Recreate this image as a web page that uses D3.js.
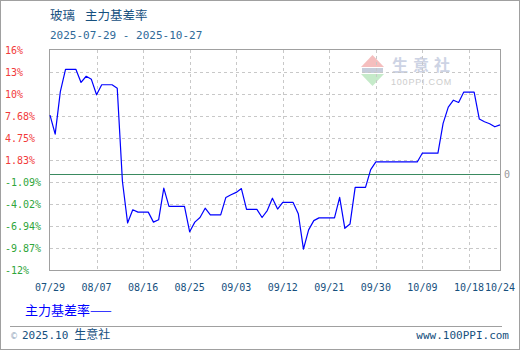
<!DOCTYPE html>
<html>
<head>
<meta charset="utf-8">
<script src="https://cdn.jsdelivr.net/npm/d3@7.9.0/dist/d3.min.js"></script>
<style>
  body { margin: 0; background: #fff; }
  svg { display: block; }
  .mono { font-family: "DejaVu Sans Mono", "Liberation Mono", monospace; }
  .cjk { font-family: "Noto Sans CJK SC", sans-serif; }
</style>
</head>
<body>
<svg id="chart" width="520" height="350"></svg>
<script>
// daily series (weekends / holidays carry previous value)
const dates = [
  '07-29','07-30','07-31','08-01','08-02','08-03','08-04','08-05','08-06','08-07',
  '08-08','08-09','08-10','08-11','08-12','08-13','08-14','08-15','08-16','08-17',
  '08-18','08-19','08-20','08-21','08-22','08-23','08-24','08-25','08-26','08-27',
  '08-28','08-29','08-30','08-31','09-01','09-02','09-03','09-04','09-05','09-06',
  '09-07','09-08','09-09','09-10','09-11','09-12','09-13','09-14','09-15','09-16',
  '09-17','09-18','09-19','09-20','09-21','09-22','09-23','09-24','09-25','09-26',
  '09-27','09-28','09-29','09-30','10-01','10-02','10-03','10-04','10-05','10-06',
  '10-07','10-08','10-09','10-10','10-11','10-12','10-13','10-14','10-15','10-16',
  '10-17','10-18','10-19','10-20','10-21','10-22','10-23','10-24'
];
const basisRate = [
  7.56, 5.1, 10.6, 13.5, 13.5, 13.5, 11.8, 12.6, 12.2, 10.2,
  11.5, 11.5, 11.5, 11.05, -1.0, -6.4, -4.7, -5.0, -5.0, -5.0,
  -6.3, -6.0, -1.9, -4.25, -4.25, -4.25, -4.25, -7.55, -6.3, -5.7,
  -4.5, -5.35, -5.35, -5.35, -3.1, -2.75, -2.45, -1.95, -4.65, -4.65,
  -4.65, -5.7, -4.8, -3.2, -4.6, -3.75, -3.75, -3.75, -5.2, -9.8,
  -7.3, -6.1, -5.75, -5.75, -5.75, -5.75, -3.1, -7.1, -6.55, -1.8,
  -1.8, -1.8, 0.5, 1.5, 1.5, 1.5, 1.5, 1.5, 1.5, 1.5,
  1.5, 1.5, 2.65, 2.65, 2.65, 2.65, 6.5, 8.6, 9.5, 9.2,
  10.55, 10.55, 10.55, 7.05, 6.7, 6.45, 6.05, 6.3
];
const xTickDates = ['07-29','08-07','08-16','08-25','09-03','09-12','09-21','09-30','10-09','10-18','10-24'];
const yTickLabels = ['16%','13%','10%','7.68%','4.75%','1.83%','-1.09%','-4.02%','-6.94%','-9.87%','-12%'];

const parse = (s) => d3.timeParse('%Y-%m-%d')('2025-' + s);
const data = dates.map((d, i) => ({ date: parse(d), value: basisRate[i] }));

const svg = d3.select('#chart');
const plotLeft = 50, plotRight = 500, plotTop = 50, plotBottom = 270;

const x = d3.scaleTime()
  .domain([parse('07-29'), parse('10-24')])
  .range([plotLeft, plotRight]);
const y = d3.scaleLinear()
  .domain([-12.5, 16])
  .range([plotBottom, plotTop]);

// outer frame
svg.append('rect')
  .attr('x', 0.5).attr('y', 0.5).attr('width', 519).attr('height', 349)
  .attr('fill', 'none').attr('stroke', '#a0a0a0');

// titles
svg.append('text').attr('class', 'cjk').attr('x', 50).attr('y', 20)
  .attr('font-size', 12.5).attr('fill', '#16507e').text('玻璃');
svg.append('text').attr('class', 'cjk').attr('x', 85).attr('y', 20)
  .attr('font-size', 12.5).attr('fill', '#16507e').text('主力基差率');
svg.append('text').attr('class', 'mono').attr('x', 50).attr('y', 39)
  .attr('font-size', 11).attr('fill', '#2f6a98').text('2025-07-29 - 2025-10-27');

// watermark
const wm = svg.append('g').attr('opacity', 0.9);
wm.append('path').attr('d', 'M372.5,55 L384,67 L361,67 Z').attr('fill', '#f4b8b8');
wm.append('rect').attr('x', 362).attr('y', 68).attr('width', 21).attr('height', 5).attr('fill', '#c0c8d8');
wm.append('path').attr('d', 'M361,74 L384,74 L372.5,86 Z').attr('fill', '#bfe8c4');
wm.append('text').attr('class', 'cjk').attr('x', 392).attr('y', 71)
  .attr('font-size', 16).attr('letter-spacing', 5).attr('fill', '#c8cfe2').attr('font-weight', 'bold').text('生意社');
wm.append('text').attr('x', 391).attr('y', 85)
  .attr('font-family', 'Arial, "Liberation Sans", sans-serif')
  .attr('font-size', 9).attr('letter-spacing', 0.8).attr('fill', '#c8c8c8').text('100PPI.COM');

// y grid + labels
const yTicks = d3.range(yTickLabels.length).map((i) => 16 - i * 2.85);
svg.append('g').selectAll('line').data(yTicks.slice(1, -1)).join('line')
  .attr('x1', plotLeft).attr('x2', plotRight)
  .attr('y1', (d) => Math.round(y(d)) + 0.5).attr('y2', (d) => Math.round(y(d)) + 0.5)
  .attr('stroke', '#c8c8c8').attr('stroke-dasharray', '3,3');
svg.append('g').selectAll('text').data(yTicks).join('text')
  .attr('class', 'mono')
  .attr('x', 5).attr('y', (d) => y(d) + 4)
  .attr('font-size', 10)
  .attr('fill', (d) => (d > 0 ? '#f23a3a' : '#2fa53a'))
  .text((d, i) => yTickLabels[i]);

// x grid + labels
const xTicks = xTickDates.map(parse);
svg.append('g').selectAll('line').data(xTicks.slice(1, -1)).join('line')
  .attr('x1', (d) => Math.round(x(d)) + 0.5).attr('x2', (d) => Math.round(x(d)) + 0.5)
  .attr('y1', plotTop).attr('y2', plotBottom)
  .attr('stroke', '#c8c8c8').attr('stroke-dasharray', '3,3');
svg.append('g').selectAll('text').data(xTicks).join('text')
  .attr('class', 'mono')
  .attr('x', (d) => x(d)).attr('y', 291)
  .attr('text-anchor', 'middle')
  .attr('font-size', 10)
  .attr('fill', '#16507e')
  .text(d3.timeFormat('%m/%d'));

// plot frame
svg.append('rect')
  .attr('x', plotLeft - 0.5).attr('y', plotTop - 0.5)
  .attr('width', plotRight - plotLeft + 1).attr('height', plotBottom - plotTop + 1)
  .attr('fill', 'none').attr('stroke', '#a0a0a0');

// zero line
svg.append('line')
  .attr('x1', plotLeft).attr('x2', plotRight)
  .attr('y1', Math.round(y(0)) + 0.5).attr('y2', Math.round(y(0)) + 0.5)
  .attr('stroke', '#3a8a60').attr('stroke-width', 1.2);
svg.append('text').attr('class', 'mono')
  .attr('x', 504).attr('y', y(0) + 4)
  .attr('font-size', 10).attr('fill', '#999').text('0');

// series line
const line = d3.line()
  .x((d) => x(d.date))
  .y((d) => y(d.value));
svg.append('path')
  .datum(data)
  .attr('d', line)
  .attr('fill', 'none')
  .attr('stroke', '#0000ff')
  .attr('stroke-width', 1.2)
  .attr('stroke-linejoin', 'round');

// legend
svg.append('text').attr('class', 'cjk').attr('x', 25).attr('y', 315)
  .attr('font-size', 13).attr('fill', '#0000ff').text('主力基差率——');

// footer
svg.append('line').attr('x1', 10).attr('x2', 502).attr('y1', 326.5).attr('y2', 326.5)
  .attr('stroke', '#a0a0a0');
svg.append('text').attr('x', 10).attr('y', 339)
  .attr('font-size', 11).attr('fill', '#16507e')
  .html('<tspan font-family="DejaVu Sans" font-size="8" fill="#8a9fb8">©</tspan><tspan class="mono" dx="4">2025.10</tspan><tspan class="cjk" dx="6" font-size="12">生意社</tspan>');
svg.append('text').attr('class', 'mono').attr('x', 509).attr('y', 339)
  .attr('text-anchor', 'end')
  .attr('font-size', 11).attr('fill', '#16507e').text('www.100PPI.com');
</script>
</body>
</html>
